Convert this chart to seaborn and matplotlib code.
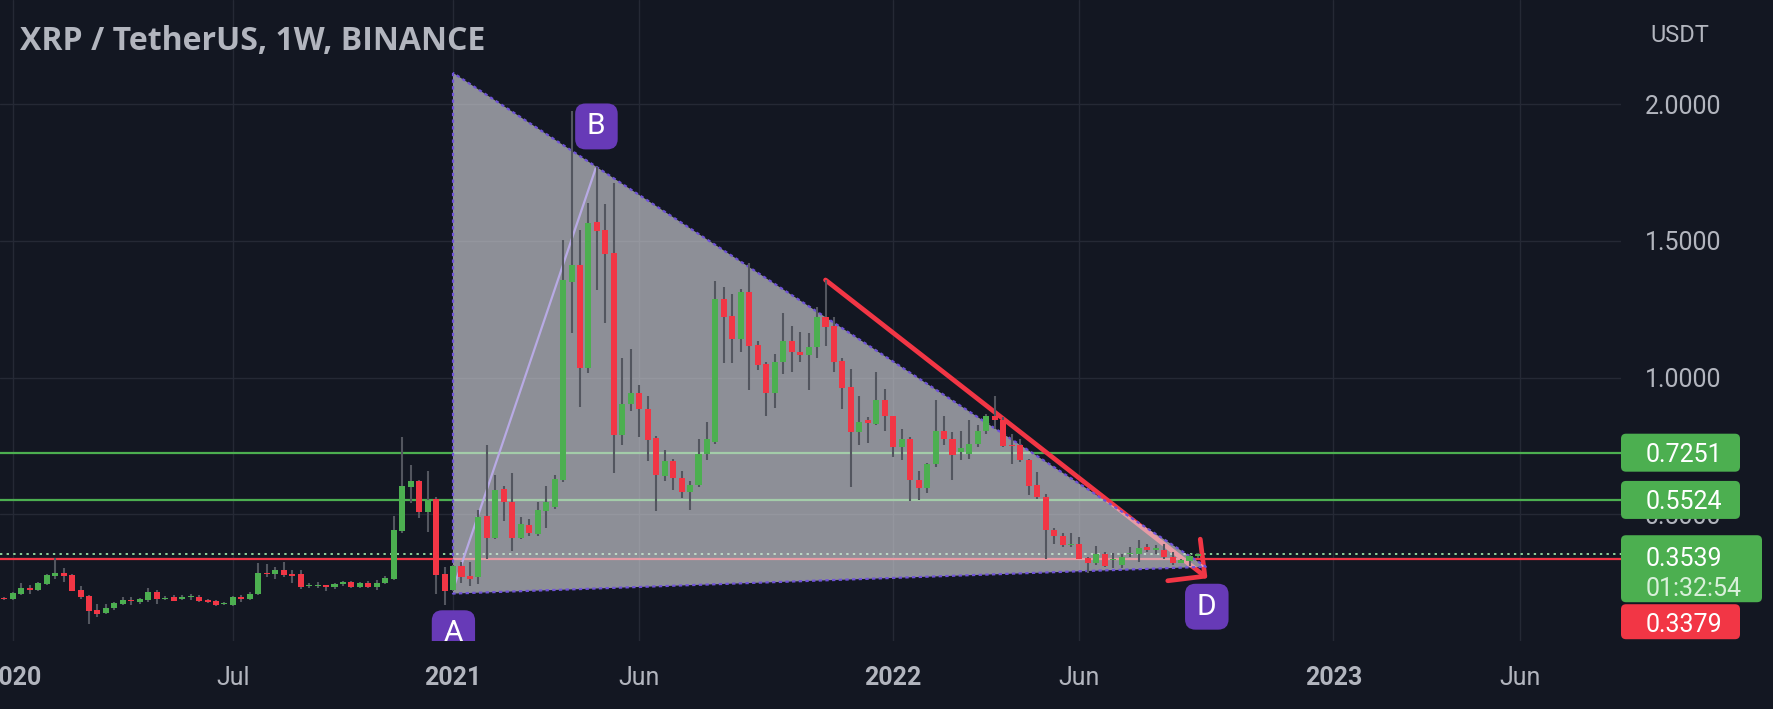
import numpy as np
import pandas as pd
import matplotlib
matplotlib.use("Agg")
import matplotlib.pyplot as plt
import matplotlib.dates as mdates
from matplotlib.patches import Polygon, FancyBboxPatch
from matplotlib.transforms import IdentityTransform
import seaborn as sns

# ---------------- data ----------------
first_week = "2019-12-30"
opens = [
    .194, .190, .208, .229, .223, .245, .275, .287, .277, .223,
    .202, .150, .140, .157, .172, .186, .178, .186, .214, .190,
    .198, .189, .196, .198, .186, .182, .172, .168, .196, .190,
    .208, .286, .281, .298, .283, .280, .236, .238, .241, .235,
    .244, .253, .235, .250, .235, .247, .265, .440, .600, .620,
    .509, .557, .281, .222, .309, .275, .270, .493, .414, .592,
    .546, .414, .461, .427, .512, .527, .627, 1.350, 1.413, 1.036,
    1.570, 1.538, 1.457, .791, .904, .944, .885, .778, .640, .696,
    .634, .583, .606, .721, .765, 1.287, 1.226, 1.141, 1.311, 1.120,
    1.050, .943, 1.056, 1.135, 1.092, 1.083, 1.111, 1.220, 1.190, 1.060,
    .967, .800, .843, .831, .918, .858, .746, .776, .627, .597,
    .685, .806, .776, .728, .722, .758, .806, .858, .845, .755,
    .752, .697, .606, .563, .442, .420, .386, .393, .341, .320,
    .356, .332, .314, .353, .354, .381, .370, .371, .342, .322,
    .330, .347]
highs = [
    .198, .215, .249, .241, .252, .283, .341, .302, .280, .238,
    .205, .172, .172, .180, .196, .198, .193, .229, .222, .202,
    .205, .203, .208, .205, .190, .186, .178, .200, .203, .215,
    .322, .317, .307, .326, .295, .298, .247, .252, .243, .250,
    .257, .256, .254, .256, .258, .275, .493, .782, .679, .627,
    .658, .563, .308, .316, .325, .326, .514, .755, .642, .602,
    .652, .490, .482, .545, .602, .642, 1.504, 1.975, 1.538, 1.639,
    1.768, 1.633, 1.711, 1.073, 1.105, .973, .931, .785, .734, .702,
    .658, .620, .776, .837, 1.354, 1.332, 1.305, 1.323, 1.417, 1.133,
    1.056, 1.086, 1.235, 1.190, 1.165, 1.162, 1.257, 1.356, 1.220, 1.072,
    1.032, .934, .855, 1.019, .959, .861, .813, .782, .658, .688,
    .916, .858, .800, .806, .845, .825, .867, .931, .855, .794,
    .776, .703, .654, .575, .448, .430, .430, .417, .345, .384,
    .362, .359, .356, .380, .405, .391, .387, .390, .362, .338,
    .354, .358]
lows = [
    .186, .186, .204, .210, .219, .240, .265, .253, .218, .190,
    .100, .125, .135, .150, .168, .170, .172, .180, .172, .185,
    .182, .185, .188, .180, .175, .165, .168, .165, .180, .186,
    .205, .272, .265, .270, .250, .225, .229, .232, .220, .226,
    .238, .232, .230, .232, .222, .245, .260, .432, .541, .485,
    .436, .210, .170, .219, .250, .238, .244, .338, .408, .476,
    .364, .408, .420, .420, .451, .520, .617, 1.161, .891, 1.017,
    1.321, 1.199, .652, .753, .879, .784, .696, .512, .621, .590,
    .558, .514, .600, .697, .758, 1.052, 1.052, 1.092, .953, 1.028,
    .861, .889, 1.013, 1.019, 1.056, .953, 1.072, 1.117, 1.019, .886,
    .600, .752, .760, .825, .806, .709, .697, .549, .553, .578,
    .673, .752, .624, .697, .703, .746, .794, .813, .746, .682,
    .691, .569, .557, .335, .390, .381, .381, .336, .286, .314,
    .308, .305, .302, .344, .326, .362, .354, .338, .314, .320,
    .310, .340]
closes = [
    .190, .211, .229, .223, .247, .277, .287, .274, .220, .196,
    .147, .135, .156, .174, .186, .182, .190, .214, .190, .195,
    .184, .198, .198, .183, .179, .168, .174, .196, .189, .210,
    .284, .280, .298, .277, .274, .235, .239, .241, .235, .245,
    .253, .235, .250, .235, .250, .268, .442, .602, .620, .509,
    .553, .277, .220, .309, .272, .265, .489, .414, .590, .546,
    .414, .464, .433, .514, .546, .630, 1.356, 1.413, 1.036, 1.564,
    1.535, 1.450, .791, .904, .944, .885, .772, .642, .696, .634,
    .583, .608, .721, .776, 1.287, 1.223, 1.141, 1.311, 1.117, 1.044,
    .943, 1.056, 1.135, 1.092, 1.083, 1.113, 1.220, 1.186, 1.056, .962,
    .800, .839, .833, .918, .858, .746, .776, .627, .597, .685,
    .806, .776, .715, .742, .758, .806, .858, .843, .748, .748,
    .697, .602, .563, .444, .420, .387, .392, .338, .320, .354,
    .311, .338, .344, .359, .377, .369, .375, .344, .320, .332,
    .347, .3539]

green_levels = [0.7251, 0.5524]
red_level = 0.3379
last_price = 0.3539
countdown = "01:32:54"

tri_dates = ["2021-01-04 00:00", "2021-01-04 00:00", "2022-09-18 12:00"]
tri_prices = [2.114, 0.210, 0.308]
ab_dates = ["2021-01-05 00:00", "2021-05-02 00:00"]
ab_prices = [0.238, 1.765]
trend_dates = ["2021-11-08 00:00", "2022-09-19 20:00"]
trend_prices = [1.3566, 0.266]
point_names = ["A", "B", "D"]
point_dates = ["2021-01-04 08:00", "2021-05-02 14:00", "2022-09-19 07:00"]
point_prices = [0.065, 1.918, 0.162]

xtick_dates = ["2020-01-06", "2020-07-06", "2021-01-04", "2021-06-07",
               "2022-01-03", "2022-06-06", "2023-01-02", "2023-06-05"]
xtick_labels = ["2020", "Jul", "2021", "Jun", "2022", "Jun", "2023", "Jun"]
ytick_values = [0.5, 1.0, 1.5, 2.0]
x_range = ["2019-12-26 09:36", "2023-08-27 19:00"]
y_range = [0.0366, 2.3803]
title = "XRP / TetherUS, 1W, BINANCE"
currency = "USDT"


def dnum(lst):
    return mdates.date2num(pd.to_datetime(lst, format="mixed"))


# ---------------- style ----------------
BG = "#131722"
UP = "#4caf50"
DOWN = "#f23645"
WICK = "#53565f"
TXT = "#b2b5be"
PURPLE = "#673ab7"

sns.set_theme(style="darkgrid", rc={
    "axes.facecolor": BG, "figure.facecolor": BG, "axes.edgecolor": BG,
    "grid.color": "#252935", "grid.linewidth": 1.0,
})
plt.rcParams["font.family"] = ["Roboto", "DejaVu Sans"]

W, H = 1774, 709
fig = plt.figure(figsize=(W / 100, H / 100), dpi=100)
ax = fig.add_axes([0, 1 - 641 / H, 1621 / W, 641 / H])
for s in ax.spines.values():
    s.set_visible(False)

df = pd.DataFrame({"date": pd.date_range(first_week, periods=len(opens), freq="7D"),
                   "open": opens, "high": highs, "low": lows, "close": closes})
x = mdates.date2num(df["date"])
up = df["close"].values >= df["open"].values
colors = np.where(up, UP, DOWN)
bottom = np.minimum(df["open"], df["close"]).values
height = np.maximum(np.abs(df["close"] - df["open"]).values, 0.004)

# horizontal levels (below the triangle fill)
for lv in green_levels:
    ax.axhline(lv, color=UP, lw=1.6, zorder=1.5)
ax.axhline(red_level, color=DOWN, lw=1.6, zorder=1.5)
ax.axhline(last_price, color="#8fd19a", lw=1.4, ls=(0, (1.2, 2.2)), zorder=1.5)

# red trend line with arrow
td = dnum(trend_dates)
ax.annotate("", xy=(td[1], trend_prices[1]), xytext=(td[0], trend_prices[0]),
            arrowprops=dict(arrowstyle="->,head_length=1.9,head_width=1.9", color=DOWN,
                            lw=3.4, mutation_scale=10, shrinkA=0, shrinkB=0),
            zorder=1.8, annotation_clip=False)

# triangle
tx = dnum(tri_dates)
tri = Polygon(np.column_stack([tx, tri_prices]), closed=True, fc="#dfe0e6", ec="none",
              alpha=0.6, zorder=2)
ax.add_patch(tri)
ax.plot(list(tx) + [tx[0]], tri_prices + [tri_prices[0]], color="#6f52d9", lw=1.6,
        ls=(0, (1.5, 1.5)), zorder=2.3)
abx = dnum(ab_dates)
ax.plot(abx, ab_prices, color="#b8aae4", lw=1.6, zorder=2.2)

# candles
ax.vlines(x, df["low"], df["high"], color=WICK, lw=1.5, zorder=3)
ax.bar(x, height, bottom=bottom, width=5.0, color=colors, linewidth=0, zorder=3.2)

# point labels
px_ = dnum(point_dates)
for nm, xx, pp in zip(point_names, px_, point_prices):
    ax.text(xx, pp, "\u200a" + nm + "\u200a", ha="center", va="center", fontsize=21.5,
            color="white", family=["Roboto", "DejaVu Sans"], zorder=6, clip_on=True,
            bbox=dict(boxstyle="round,pad=0.3,rounding_size=0.35", fc=PURPLE, ec="none"))

# axes
ax.set_xlim(dnum(x_range))
ax.set_ylim(y_range)
ax.set_xticks(dnum(xtick_dates))
ax.set_xticklabels(xtick_labels)
for lab in ax.get_xticklabels():
    if lab.get_text().isdigit():
        lab.set_fontweight("bold")
ax.tick_params(axis="x", length=0, pad=18, labelsize=18, labelcolor=TXT,
               bottom=True, labelbottom=True)
ax.yaxis.tick_right()
ax.set_yticks(ytick_values)
ax.set_yticklabels([f"{v:.4f}" for v in ytick_values])
ax.tick_params(axis="y", length=0, pad=17, labelsize=18, labelcolor=TXT,
               right=True, left=False, labelright=True, labelleft=False)
ax.grid(True)

# title and currency
fig.text(20 / W, 1 - 42 / H, title, ha="left", va="center", fontsize=23,
         fontweight="bold", color=TXT, family=["Open Sans", "DejaVu Sans"])
fig.text(1650 / W, 1 - 35 / H, currency, ha="left", va="center", fontsize=17, color=TXT)


# price labels on the right
def ypx(p):
    return ax.transData.transform((ax.get_xlim()[0], p))[1]


x0 = 1621


def box(y_bottom, h, w, color, z=5):
    fig.add_artist(FancyBboxPatch((x0, y_bottom), w, h, boxstyle="round,pad=0,rounding_size=5",
                                  fc=color, ec="none", transform=IdentityTransform(), zorder=z))


def label(y_center, s, color="white", fs=18):
    fig.add_artist(plt.Text(1646, y_center, s, ha="left", va="center_baseline", fontsize=fs,
                            color=color, transform=IdentityTransform(), zorder=6,
                            family=["Roboto", "DejaVu Sans"]))


for lv in green_levels:
    yc = ypx(lv)
    box(yc - 19, 38, 119, UP)
    label(yc, f"{lv:.4f}")

yl = ypx(last_price)
box(yl - 48, 67, 141, UP)
label(yl - 2, f"{last_price:.4f}")
label(yl - 32, countdown, color="#d9f0da")
box(yl - 50 - 35, 35, 119, DOWN)
label(yl - 68, f"{red_level:.4f}")

fig.savefig("out.png", dpi=100, facecolor=BG)
